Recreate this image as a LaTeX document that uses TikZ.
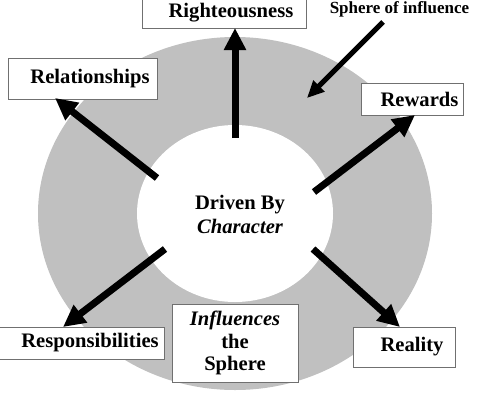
\documentclass[tikz,border=0pt]{standalone}
\usepackage{fontspec}
\setmainfont{Liberation Serif}
\usetikzlibrary{arrows.meta}
\definecolor{ringgray}{HTML}{C0C0C0}
\definecolor{boxline}{HTML}{707070}
\tikzset{
  tbox/.style={draw=boxline, line width=1pt, fill=white, inner sep=0pt,
    font=\fontsize{20.6}{22.5}\selectfont\bfseries, align=center},
  bigarrow/.style={line width=7pt, -{Triangle[length=22pt,width=21pt]}},
  smallarrow/.style={line width=5pt, -{Triangle[length=17pt,width=15pt]}},
}
\begin{document}
\begin{tikzpicture}[x=1pt,y=-1pt]
\clip (0,0) rectangle (495,400);
\fill[white] (0,0) rectangle (495,400);
% rings
\fill[ringgray] (235,213.5) ellipse [x radius=197, y radius=176.5];
\fill[white] (235,213.5) ellipse [x radius=98, y radius=88.5];
% centre text
\node (core) at (240,214) [font=\fontsize{20.6}{24}\selectfont\bfseries, align=center, inner sep=0pt]
  {Driven By\\\itshape Character};
% boxes
\node[tbox, minimum width=164pt, minimum height=31pt] (righ) at (224,12.5) {\hspace*{14pt}Righteousness};
\node[tbox, minimum width=149pt, minimum height=41pt] (rel) at (82.5,78.5) {\hspace*{15pt}Relationships};
\node[tbox, minimum width=102pt, minimum height=32pt] (rew) at (412,99) {\hspace*{15pt}Rewards};
\node[tbox, minimum width=169pt, minimum height=32pt] (resp) at (79.5,343) {\hspace*{21pt}Responsibilities};
\node[tbox, minimum width=102pt, minimum height=40pt] (real) at (404,347) {\hspace*{16pt}Reality};
\node[tbox, minimum width=126pt, minimum height=78pt] (infl) at (235,343) {\itshape Influences\\the\\Sphere};
% label
\node (sphere) at (399.5,13) [anchor=base, inner sep=0pt, font=\fontsize{17}{19}\selectfont\bfseries] {Sphere of influence};
% arrow ends
\coordinate (tU) at (235,138);
\coordinate (hU) at (235,28);
\coordinate (tUL) at (157,178);
\coordinate (hUL) at (55,98);
\coordinate (tUR) at (314,192);
\coordinate (hUR) at (415,115);
\coordinate (tLL) at (165,249);
\coordinate (hLL) at (63,327);
\coordinate (tLR) at (313,249);
\coordinate (hLR) at (400,327);
\coordinate (sT) at (383,22);
\coordinate (sH) at (307,98);
% arrows
\draw[bigarrow] (tU) -- (hU);
\draw[bigarrow] (tUL) -- (hUL);
\draw[bigarrow] (tUR) -- (hUR);
\draw[bigarrow] (tLL) -- (hLL);
\draw[bigarrow] (tLR) -- (hLR);
\draw[smallarrow] (sT) -- (sH);
\end{tikzpicture}
\end{document}
